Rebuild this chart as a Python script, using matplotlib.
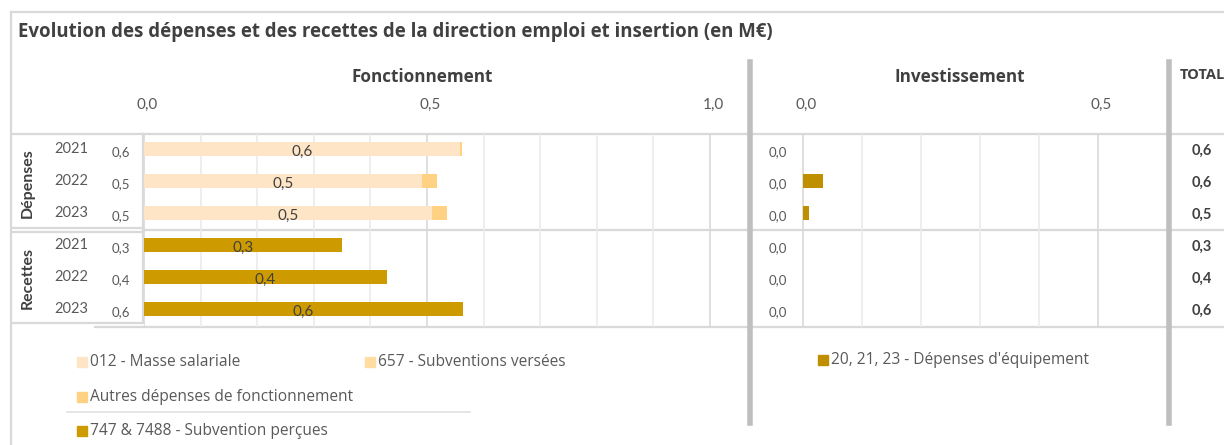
import matplotlib
matplotlib.use("Agg")
import matplotlib.pyplot as plt
from matplotlib.patches import Rectangle
from matplotlib.lines import Line2D
from matplotlib.transforms import ScaledTranslation

# ---------------- data ----------------
years = ["2021", "2022", "2023"]
groups = ["Dépenses", "Recettes"]
masse_salariale = [0.558, 0.491, 0.509]
subventions_versees = [0.0, 0.0, 0.0]
autres_depenses = [0.004, 0.026, 0.027]
subventions_percues = [0.349, 0.429, 0.564]
invest_depenses = [0.0, 0.034, 0.010]
invest_recettes = [0.0, 0.0, 0.0]
fonct_ticks = [0.0, 0.5, 1.0]
invest_ticks = [0.0, 0.5]

C_MASSE = "#FEE5C5"
C_657 = "#FFDCA2"
C_AUTRES = "#FFD283"
C_REC = "#CD9A00"
C_INV = "#BF8F00"
TXT = "#595959"
DARK = "#404040"
GRID = "#D9D9D9"
SEP = "#BFBFBF"
WIDE = ["Open Sans", "DejaVu Sans"]

plt.rcParams["font.family"] = ["Lato", "DejaVu Sans"]

W, H = 1224, 445
fig = plt.figure(figsize=(W / 100, H / 100), dpi=100)


def fx(x):
    return x / W


def fy(y):
    return 1 - y / H


def hline(y, x0, x1, color=GRID, lw=1.6):
    fig.add_artist(Line2D([fx(x0), fx(x1)], [fy(y), fy(y)], color=color, lw=lw, zorder=0))


def vline(x, y0, y1, color=GRID, lw=1.6):
    fig.add_artist(Line2D([fx(x), fx(x)], [fy(y0), fy(y1)], color=color, lw=lw, zorder=0))


def fmt(v):
    return f"{v:.1f}".replace(".", ",")


top, bot = 134, 327
row0, step = 149, 32
ylim = ((bot - row0) / step, -(row0 - top) / step)
shift = ScaledTranslation(3 / 100, 0, fig.dpi_scale_trans)


def make_ax(x0, x1):
    ax = fig.add_axes([fx(x0), fy(bot), fx(x1) - fx(x0), (bot - top) / H])
    ax.set_ylim(*ylim)
    for s in ax.spines.values():
        s.set_visible(False)
    ax.set_yticks([])
    ax.patch.set_alpha(0)
    return ax


def style_ticks(ax, ticks):
    ax.set_xticks(ticks)
    ax.set_xticklabels([fmt(t) for t in ticks])
    ax.xaxis.tick_top()
    ax.tick_params(axis="x", length=0, pad=16, labelsize=11, labelcolor=TXT)
    for lbl in ax.get_xticklabels():
        lbl.set_transform(lbl.get_transform() + shift)


# ---------- Fonctionnement ----------
scaleF = 566.0
axF = make_ax(144, 750)
axF.set_xlim(0, (750 - 144) / scaleF)
ypos_dep = [0, 1, 2]
ypos_rec = [3, 4, 5]
bh = 0.41
axF.barh(ypos_dep, masse_salariale, height=bh, color=C_MASSE, zorder=3)
left2 = masse_salariale
axF.barh(ypos_dep, subventions_versees, left=left2, height=bh, color=C_657, zorder=3)
left3 = [a + b for a, b in zip(masse_salariale, subventions_versees)]
axF.barh(ypos_dep, autres_depenses, left=left3, height=bh, color=C_AUTRES, zorder=3)
axF.barh(ypos_rec, subventions_percues, height=bh, color=C_REC, zorder=3)
for y, v in zip(ypos_dep, masse_salariale):
    axF.text(v / 2, y + 0.08, fmt(v), ha="center", va="center", fontsize=11, color=DARK, zorder=4)
for y, v in zip(ypos_rec, subventions_percues):
    axF.text(v / 2, y + 0.08, fmt(v), ha="center", va="center", fontsize=11, color=DARK, zorder=4)
for m in [i / 10 for i in range(0, 11)]:
    axF.axvline(m, color="#D9D9D9" if m in fonct_ticks else "#EBEBEB", lw=1.2, zorder=1)
style_ticks(axF, fonct_ticks)

# ---------- Investissement ----------
scaleI = 590.0
axI = make_ax(750, 1169)
axI.set_xlim(-(803 - 750) / scaleI, (1169 - 803) / scaleI)
axI.barh(ypos_dep, invest_depenses, height=bh, color=C_INV, zorder=3)
axI.barh(ypos_rec, invest_recettes, height=bh, color=C_INV, zorder=3)
for m in [i / 10 for i in range(0, 6)]:
    axI.axvline(m, color="#D9D9D9" if m in invest_ticks else "#EBEBEB", lw=1.2, zorder=1)
style_ticks(axI, invest_ticks)
for y, v in zip(ypos_dep + ypos_rec, invest_depenses + invest_recettes):
    axI.text(-(803 - 778) / scaleI, y + 0.1, fmt(v), ha="center", va="center", fontsize=9.5, color=TXT)

# ---------- left table ----------
all_vals = [a + b + c for a, b, c in zip(masse_salariale, subventions_versees, autres_depenses)] + subventions_percues
for i, v in enumerate(all_vals):
    yc = row0 + step * i
    fig.text(fx(121), fy(yc + 3), fmt(v), ha="center", va="center", fontsize=9.5, color=TXT)
    fig.text(fx(71), fy(yc), years[i % 3], ha="center", va="center", fontsize=10.5, color=TXT)
fig.text(fx(28), fy(183), groups[0], rotation=90, ha="center", va="center", fontsize=11.5,
         fontweight="bold", color=DARK)
fig.text(fx(28), fy(278), groups[1], rotation=90, ha="center", va="center", fontsize=11.5,
         fontweight="bold", color=DARK)
hline(134, 12, 143)
hline(228, 12, 143)
hline(232, 12, 143)
hline(323, 12, 143)
vline(143, 134, 228)
vline(143, 232, 323)

# ---------- totals ----------
inv_all = invest_depenses + invest_recettes
for i, v in enumerate(all_vals):
    yc = row0 + step * i
    fig.text(fx(1202), fy(yc + 2), fmt(v + inv_all[i]), ha="center", va="center",
             fontsize=10.5, fontweight="bold", color=DARK)

# ---------- grid lines / frame ----------
hline(134, 143, 1224)
hline(230, 143, 1224)
hline(327, 95, 1224)
hline(12, 11, 1224)
vline(11, 12, 445)
vline(750, 62, 423, color=SEP, lw=4)
vline(1169, 62, 423, color=SEP, lw=4)
hline(412, 67, 470, color="#E0E0E0", lw=1.2)

# ---------- titles ----------
fig.text(fx(18), fy(32), "Evolution des dépenses et des recettes de la direction emploi et insertion (en M€)",
         ha="left", va="center", fontsize=13.4, fontweight="bold", color=DARK, family=WIDE)
fig.text(fx(422), fy(77), "Fonctionnement", ha="center", va="center", fontsize=12.3, fontweight="bold",
         color=DARK, family=WIDE)
fig.text(fx(960), fy(77), "Investissement", ha="center", va="center", fontsize=12.3, fontweight="bold",
         color=DARK, family=WIDE)
fig.text(fx(1180), fy(75), "TOTAL", ha="left", va="center", fontsize=10.5, fontweight="bold", color=DARK,
         family=WIDE)


# ---------- legends ----------
def legend_item(x, y, color, label):
    fig.add_artist(Rectangle((fx(x), fy(y + 5)), 10 / W, 10 / H, color=color, transform=fig.transFigure))
    fig.text(fx(x + 13), fy(y), label, ha="left", va="center", fontsize=11.2, color=TXT, family=WIDE)


legend_item(77, 362, C_MASSE, "012 - Masse salariale")
legend_item(365, 362, C_657, "657 - Subventions versées")
legend_item(77, 397, C_AUTRES, "Autres dépenses de fonctionnement")
legend_item(77, 431, C_REC, "747 & 7488 - Subvention perçues")
legend_item(818, 360, C_INV, "20, 21, 23 - Dépenses d'équipement")

fig.savefig("out.png", dpi=100)
